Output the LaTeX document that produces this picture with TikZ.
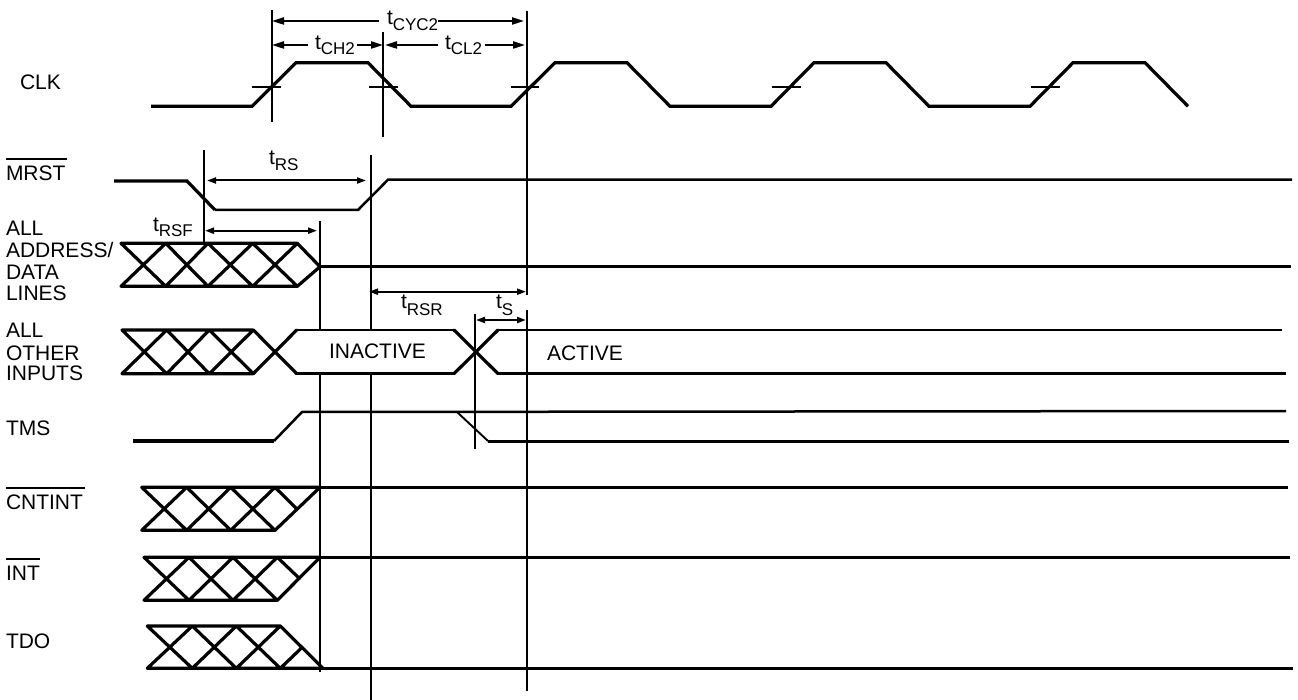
\documentclass[tikz,border=0pt]{standalone}
\usepackage{fontspec}
\setmainfont{Liberation Sans}
\usetikzlibrary{arrows.meta}
\newcommand{\tsub}[2]{t\raisebox{-#1pt}{\fontsize{17}{17}\selectfont #2}}
\tikzset{
  sig/.style={line width=3.2pt,line join=miter},
  thinsig/.style={line width=2.5pt,line join=miter},
  xhatch/.style={line width=3.2pt,line cap=round,line join=round},
  guide/.style={line width=2.1pt},
  tick/.style={line width=1.9pt},
  dimsmall/.style={line width=2pt,{Triangle[length=9pt,width=6pt]}-{Triangle[length=9pt,width=6pt]}},
  halfleft/.style={line width=2.1pt,{Triangle[length=12pt,width=7pt]}-},
  halfright/.style={line width=2.1pt,-{Triangle[length=12pt,width=7pt]}},
  lab/.style={anchor=base west,inner sep=0pt,outer sep=0pt,yshift=-1pt,font=\fontsize{21}{21.5}\selectfont},
  tlab/.style={anchor=base west,inner sep=0pt,outer sep=0pt,yshift=-1pt,font=\fontsize{21}{21}\selectfont},
  over/.style={line width=2pt}
}
\begin{document}
\begin{tikzpicture}[x=1pt,y=-1pt]
\useasboundingbox (0,0) rectangle (1298,700);

% guide lines
\draw[guide] (272,10) -- (272,122);
\draw[guide] (383,32) -- (383,137);
\draw[guide] (527,11) -- (527,295) (527,310) -- (527,691);
\draw[guide] (204,150) -- (204,243);
\draw[guide] (320,221) -- (320,330) (320,374) -- (320,672);
\draw[guide] (371,155) -- (371,330) (371,374) -- (371,700);
\draw[guide] (475,314) -- (475,449);

% CLK
\draw[sig] (151,106.3) -- (252,106.3) -- (296,62.7) -- (368,62.7) -- (411,106.3) -- (511,106.3)
  -- (555,62.7) -- (627,62.7) -- (670,106.3) -- (771,106.3) -- (814,62.7) -- (886,62.7)
  -- (929,106.3) -- (1030,106.3) -- (1073,62.7) -- (1145,62.7) -- (1188,106.3);
\draw[tick] (252,86.7) -- (281,86.7) (369,86.7) -- (398,86.7) (511,86.7) -- (539,86.7)
  (772,86.7) -- (801,86.7) (1031,86.7) -- (1060,86.7);

% MRST
\draw[sig] (114,181) -- (187,181) -- (215,210);
\draw[thinsig] (215,210) -- (358,210) -- (388,179.7) -- (1292,179.7);

% All address/data lines
\draw[xhatch] (121,243.3) -- (297.3,243.3) -- (320,266.7) -- (297.3,286.3) -- (121,286.3)
  (121,243.3) -- (165.7,286.3) (165.7,243.3) -- (208,286.3) (208,243.3) -- (252.7,286.3) (252.7,243.3) -- (297.3,286.3)
  (121,286.3) -- (165.7,243.3) (165.7,286.3) -- (208,243.3) (208,286.3) -- (252.7,243.3) (252.7,286.3) -- (297.3,243.3);
\draw[sig] (320,266.7) -- (1291,266.7);

% All other inputs
\draw[xhatch] (122,330) -- (253.3,330) (122,373.7) -- (253.3,373.7)
  (122,330) -- (166.7,373.7) (166.7,330) -- (209.3,373.7) (209.3,330) -- (253.3,373.7) (253.3,330) -- (296.7,373.7)
  (122,373.7) -- (166.7,330) (166.7,373.7) -- (209.3,330) (209.3,373.7) -- (253.3,330) (253.3,373.7) -- (296.7,330)
  (454,330) -- (498,373.7) (454,373.7) -- (498,330);
\draw[thinsig] (296.7,330) -- (454,330) (296.7,373.7) -- (454,373.7)
  (498,330) -- (1282,330) (498,373.7) -- (1286,373.7);

% TMS
\draw[sig] (133,441) -- (274,441);
\draw[thinsig] (274,441) -- (302,412) -- (1286,411);
\draw[tick] (457,412) -- (488,441);
\draw[sig] (488,441.5) -- (1289,441.5);

% CNTINT
\draw[xhatch] (141.7,487.3) -- (320,487.3) -- (275,530.3) -- (141.7,530.3)
  (141.7,487.3) -- (186.7,530.3) (186.7,487.3) -- (230.7,530.3) (230.7,487.3) -- (275,530.3) (275,487.3) -- (297,509)
  (141.7,530.3) -- (186.7,487.3) (186.7,530.3) -- (230.7,487.3) (230.7,530.3) -- (275,487.3);
\draw[sig] (320,487.3) -- (1288,487.3);

% INT
\draw[xhatch] (144,557.3) -- (320,557.3) -- (277.3,600.3) -- (144,600.3)
  (144,557.3) -- (189,600.3) (189,557.3) -- (233,600.3) (233,557.3) -- (277.3,600.3) (277.3,557.3) -- (299.5,578.5)
  (144,600.3) -- (189,557.3) (189,600.3) -- (233,557.3) (233,600.3) -- (277.3,557.3);
\draw[sig] (320,557.3) -- (1290,557.3);

% TDO
\draw[xhatch] (147.3,626) -- (280.3,626) -- (323,668.3) -- (147.3,668.3)
  (147.3,626) -- (192.3,668.3) (192.3,626) -- (236.3,668.3) (236.3,626) -- (280.3,668.3)
  (147.3,668.3) -- (192.3,626) (192.3,668.3) -- (236.3,626) (236.3,668.3) -- (280.3,626) (280.3,668.3) -- (301.5,648);
\draw[sig] (323,668.3) -- (1293,668.3);

% dimension arrows
\draw[halfleft] (272,21) -- (379,21);
\draw[halfright] (438,21) -- (524,21);
\draw[halfleft] (272,45) -- (308,45);
\draw[halfright] (357,45) -- (383,45);
\draw[halfleft] (385,45) -- (438,45);
\draw[halfright] (485,45) -- (525,45);
\draw[dimsmall] (207,180.5) -- (366,180.5);
\draw[dimsmall] (205,230.7) -- (317,230.7);
\draw[dimsmall] (369,291.7) -- (526,291.7);
\draw[dimsmall] (476,320) -- (526,320);

% timing labels
\node[tlab] (tcyc) at (387,24) {\tsub{6}{CYC2}};
\node[tlab] (tch) at (315,49) {\tsub{5}{CH2}};
\node[tlab] (tcl) at (445,49) {\tsub{5}{CL2}};
\node[tlab] (trs) at (269,164) {\tsub{6}{RS}};
\node[tlab] (trsf) at (153,231) {\tsub{5}{RSF}};
\node[tlab] (trsr) at (401,308) {\tsub{6}{RSR}};
\node[tlab] (ts) at (496,308) {\tsub{6}{S}};
\node[tlab] (inactive) at (329,358) {INACTIVE};
\node[tlab] (active) at (547,359) {ACTIVE};

% signal labels
\node[tlab] (clk) at (20,89) {CLK};
\node[lab] (mrst) at (6,180) {MRST};
\draw[over] (6,158.7) -- (67,158.7);
\node[lab] (addr1) at (6,235) {ALL};
\node[lab] (addr2) at (6,257) {ADDRESS/};
\node[lab] (addr3) at (6,279) {DATA};
\node[lab] (addr4) at (6,300) {LINES};
\node[lab] (oth1) at (6,337) {ALL};
\node[lab] (oth2) at (6,359) {OTHER};
\node[lab] (oth3) at (6,380) {INPUTS};
\node[lab] (tms) at (6,434) {TMS};
\node[lab] (cnt) at (6,508) {CNTINT};
\draw[over] (6,488) -- (85,488);
\node[lab] (intr) at (6,579) {INT};
\draw[over] (6,559) -- (40,559);
\node[lab] (tdo) at (6,647) {TDO};
\end{tikzpicture}
\end{document}
